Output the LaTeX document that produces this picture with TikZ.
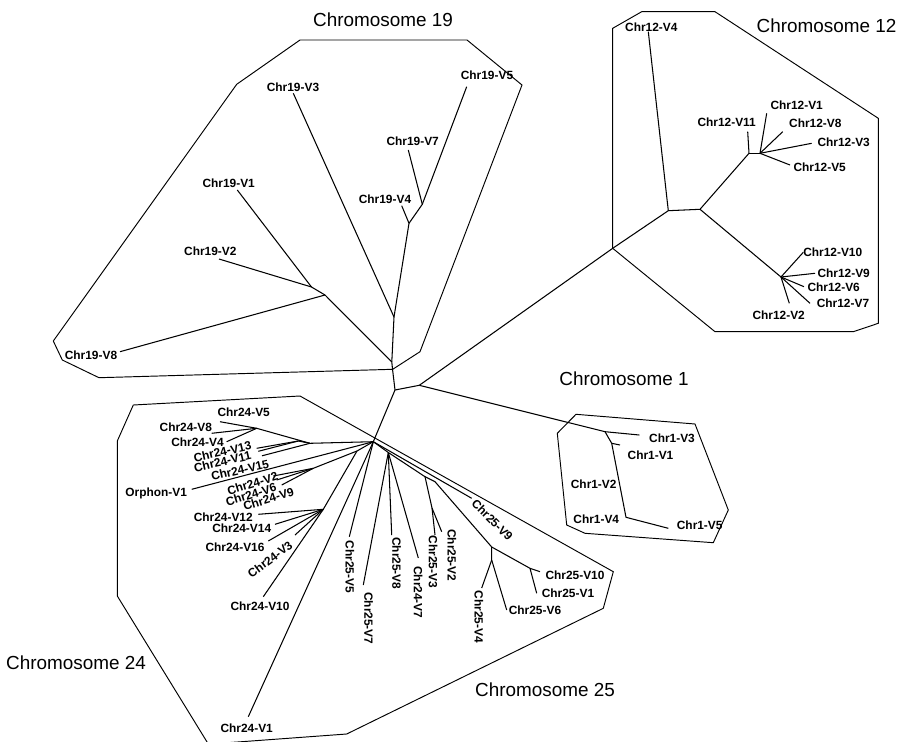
\documentclass[tikz,border=0pt]{standalone}
\usepackage{fontspec}
\setmainfont{Liberation Sans}
\begin{document}
\begin{tikzpicture}[x=1pt,y=-1pt,
  edge/.style={line width=1.05pt,black,line join=round},
  hull/.style={line width=0.95pt,black,line join=miter},
  lab/.style={font=\fontsize{11.9}{14}\selectfont\bfseries,inner sep=0pt,text depth=0pt},
  ttl/.style={font=\fontsize{18.9}{22}\selectfont,inner sep=0pt,text depth=0pt}]
\useasboundingbox (0,0) rectangle (898,742);
\clip (0,0) rectangle (898,742);
% ---------- hulls ----------
\draw[hull] (53.3,341) -- (236.7,84.3) -- (300,40) -- (467,40) -- (522,85) -- (420,351.7) -- (392.7,369.3) -- (99,377.7) -- (62.3,360) -- cycle;
\draw[hull] (612.7,28.3) -- (641.7,11.7) -- (715,11.7) -- (878.3,118.3) -- (878.3,323.3) -- (853.3,331.7) -- (715,331.7) -- (612.7,248.3) -- cycle;
\draw[hull] (576,414.3) -- (695,424) -- (728.3,510) -- (713.3,542.7) -- (585,533.3) -- (566.7,525) -- (557.3,433.3) -- cycle;
\draw[hull] (133.3,405) -- (300,396) -- (613.3,571.7) -- (603.3,608.3) -- (346.7,734) -- (241.7,741.7) -- (208.3,744) -- (117.3,596) -- (117.3,441) -- cycle;
% ---------- inner nodes ----------
\coordinate (A) at (395,390);
\coordinate (B) at (392.5,369);
\coordinate (B2) at (391.8,362);
\coordinate (H) at (394,317);
\coordinate (C) at (419.3,385.3);
\coordinate (E) at (373.3,441.7);
\coordinate (I) at (409,223.3);
\coordinate (J) at (422.3,204.3);
\coordinate (F) at (325,295);
\coordinate (K) at (311.5,287);
\coordinate (R12) at (612.7,248.3);
\coordinate (N12a) at (668.3,210.7);
\coordinate (N12b) at (700,209.3);
\coordinate (N12c) at (749,153.3);
\coordinate (N12d) at (760,153.3);
\coordinate (N12e) at (781,277);
\coordinate (N1a) at (605,431.7);
\coordinate (N1b) at (611.7,443.3);
\coordinate (N1c) at (626,517.3);
\coordinate (N24a) at (310,443.3);
\coordinate (N24b) at (256.7,428.3);
\coordinate (N24c) at (298.3,441);
\coordinate (N24h) at (357,451);
\coordinate (N24e) at (313.3,468.3);
\coordinate (N24g) at (323.3,509.3);
\coordinate (N25a) at (388.3,452.5);
\coordinate (N25b) at (425,476.7);
\coordinate (N25b2) at (432,508);
\coordinate (N25c) at (435,481.7);
\coordinate (N25d) at (491.7,547);
\coordinate (N25e) at (491.7,560);
\coordinate (N25f) at (530,568.3);
% ---------- leaf ends ----------
\coordinate (l19v3) at (293.3,93.3);
\coordinate (l19v4) at (401.7,205.7);
\coordinate (l19v7) at (408.3,150);
\coordinate (l19v5) at (466.7,86.7);
\coordinate (l19v1) at (237.3,190);
\coordinate (l19v2) at (219,259);
\coordinate (l19v8) at (120,351.7);
\coordinate (l12v4) at (648.3,31.7);
\coordinate (l12v11) at (747.7,131.7);
\coordinate (l12v1) at (766.7,113.3);
\coordinate (l12v8) at (782.7,131.7);
\coordinate (l12v3) at (811.7,143.3);
\coordinate (l12v5) at (790,165);
\coordinate (l12v10) at (803.3,252.3);
\coordinate (l12v9) at (815,273.3);
\coordinate (l12v6) at (804,286.7);
\coordinate (l12v7) at (810,303.3);
\coordinate (l12v2) at (789.3,303.3);
\coordinate (l1v3) at (639.3,435);
\coordinate (l1v1) at (620,445);
\coordinate (l1v5) at (668.3,528.3);
\coordinate (l24v5) at (220,421.7);
\coordinate (l24v8) at (211.7,433.3);
\coordinate (l24v4) at (226.7,441.7);
\coordinate (l24v13) at (256.7,448.3);
\coordinate (l24v11) at (258.3,451.3);
\coordinate (l24v15) at (262,455.8);
\coordinate (lorph) at (191.7,489.3);
\coordinate (l24v2) at (273.3,476);
\coordinate (l24v6) at (276.7,480);
\coordinate (l24v9) at (281.7,485);
\coordinate (l24v12) at (258.3,514.3);
\coordinate (l24v14) at (275,524.3);
\coordinate (l24v16) at (268.3,541);
\coordinate (l24v3) at (295,535);
\coordinate (l24v10) at (263.3,596.7);
\coordinate (l24v1) at (248.3,716.7);
\coordinate (l25v5) at (349.3,536.7);
\coordinate (l25v7) at (363.3,585);
\coordinate (l25v8) at (391.7,535);
\coordinate (l24v7) at (418.3,558);
\coordinate (l25v3) at (435,535);
\coordinate (l25v2) at (441.7,531.7);
\coordinate (l25v9) at (471.7,498.3);
\coordinate (l25v10) at (540,571.7);
\coordinate (l25v1) at (536.7,593.3);
\coordinate (l25v4) at (481.7,588);
\coordinate (l25v6) at (506.7,610);
% ---------- tree edges ----------
\draw[edge] (C) -- (A) -- (B) -- (B2) -- (H);
\draw[edge] (A) -- (E);
\draw[edge] (H) -- (l19v3);
\draw[edge] (H) -- (I) -- (l19v4);
\draw[edge] (I) -- (J) -- (l19v7);
\draw[edge] (J) -- (l19v5);
\draw[edge] (B2) -- (F) -- (l19v8);
\draw[edge] (F) -- (K) -- (l19v1);
\draw[edge] (K) -- (l19v2);
% chr12
\draw[edge] (C) -- (R12) -- (N12a) -- (l12v4);
\draw[edge] (N12a) -- (N12b) -- (N12c) -- (l12v11);
\draw[edge] (N12c) -- (N12d);
\draw[edge] (N12d) -- (l12v1);
\draw[edge] (N12d) -- (l12v8);
\draw[edge] (N12d) -- (l12v3);
\draw[edge] (N12d) -- (l12v5);
\draw[edge] (N12b) -- (N12e);
\draw[edge] (N12e) -- (l12v10);
\draw[edge] (N12e) -- (l12v9);
\draw[edge] (N12e) -- (l12v6);
\draw[edge] (N12e) -- (l12v7);
\draw[edge] (N12e) -- (l12v2);
% chr1
\draw[edge] (C) -- (N1a) -- (l1v3);
\draw[edge] (N1a) -- (N1b) -- (l1v1);
\draw[edge] (N1b) -- (N1c) -- (l1v5);
% chr24
\draw[edge] (E) -- (N24a) -- (N24b) -- (l24v5);
\draw[edge] (N24b) -- (l24v8);
\draw[edge] (N24b) -- (l24v4);
\draw[edge] (N24a) -- (N24c) -- (l24v13);
\draw[edge] (N24c) -- (l24v11);
\draw[edge] (N24a) -- (l24v15);
\draw[edge] (E) -- (lorph);
\draw[edge] (E) -- (N24h) -- (N24e) -- (l24v2);
\draw[edge] (N24e) -- (l24v6);
\draw[edge] (N24e) -- (l24v9);
\draw[edge] (N24h) -- (N24g) -- (l24v12);
\draw[edge] (N24g) -- (l24v14);
\draw[edge] (N24g) -- (l24v16);
\draw[edge] (N24g) -- (l24v3);
\draw[edge] (N24g) -- (l24v10);
\draw[edge] (E) -- (l24v1);
% chr25
\draw[edge] (E) -- (l25v5);
\draw[edge] (E) -- (l25v9);
\draw[edge] (E) -- (N25a) -- (l25v7);
\draw[edge] (N25a) -- (l25v8);
\draw[edge] (N25a) -- (l24v7);
\draw[edge] (N25a) -- (N25b) -- (N25b2) -- (l25v3);
\draw[edge] (N25b2) -- (l25v2);
\draw[edge] (N25b) -- (N25c) -- (N25d) -- (N25f) -- (l25v10);
\draw[edge] (N25f) -- (l25v1);
\draw[edge] (N25d) -- (N25e) -- (l25v4);
\draw[edge] (N25e) -- (l25v6);
% ---------- labels ----------
\node[lab] (t19v3) at (293,86.7) {Chr19-V3};
\node[lab] (t19v4) at (385,199.5) {Chr19-V4};
\node[lab] (t19v7) at (412.7,141.5) {Chr19-V7};
\node[lab] (t19v5) at (487,75) {Chr19-V5};
\node[lab] (t19v1) at (228.7,183) {Chr19-V1};
\node[lab] (t19v2) at (210.3,251.5) {Chr19-V2};
\node[lab] (t19v8) at (91,355) {Chr19-V8};
\node[lab] (t12v4) at (651.3,27) {Chr12-V4};
\node[lab] (t12v11) at (726.7,122.5) {Chr12-V11};
\node[lab] (t12v1) at (796.7,105) {Chr12-V1};
\node[lab] (t12v8) at (815.3,123.3) {Chr12-V8};
\node[lab] (t12v3) at (843.7,141.7) {Chr12-V3};
\node[lab] (t12v5) at (819.7,166.7) {Chr12-V5};
\node[lab] (t12v10) at (832.8,251.7) {Chr12-V10};
\node[lab] (t12v9) at (843.7,273.3) {Chr12-V9};
\node[lab] (t12v6) at (833.7,287.3) {Chr12-V6};
\node[lab] (t12v7) at (843,303.3) {Chr12-V7};
\node[lab] (t12v2) at (778.7,315) {Chr12-V2};
\node[lab] (t1v3) at (672,437.8) {Chr1-V3};
\node[lab] (t1v1) at (650.5,455.3) {Chr1-V1};
\node[lab] (t1v2) at (593.7,483.7) {Chr1-V2};
\node[lab] (t1v4) at (596.3,519.5) {Chr1-V4};
\node[lab] (t1v5) at (699.7,525) {Chr1-V5};
\node[lab] (t24v5) at (243.7,412.5) {Chr24-V5};
\node[lab] (t24v8) at (185.8,426.7) {Chr24-V8};
\node[lab] (t24v4) at (197.5,441.7) {Chr24-V4};
\node[lab,rotate=13] (t24v13) at (222.5,451.7) {Chr24-V13};
\node[lab,rotate=13] (t24v11) at (222.5,461.7) {Chr24-V11};
\node[lab,rotate=13] (t24v15) at (240,470) {Chr24-V15};
\node[lab] (torph) at (156.2,492.3) {Orphon-V1};
\node[lab,rotate=17] (t24v2) at (252.5,483.3) {Chr24-V2};
\node[lab,rotate=17] (t24v6) at (251,494.5) {Chr24-V6};
\node[lab,rotate=17] (t24v9) at (268.5,499) {Chr24-V9};
\node[lab] (t24v12) at (223.3,516.7) {Chr24-V12};
\node[lab] (t24v14) at (241.7,528.3) {Chr24-V14};
\node[lab] (t24v16) at (235,546.7) {Chr24-V16};
\node[lab,rotate=37] (t24v3) at (270,559.3) {Chr24-V3};
\node[lab] (t24v10) at (260,606.3) {Chr24-V10};
\node[lab] (t24v1) at (246.7,728.3) {Chr24-V1};
\node[lab,rotate=-90] (t25v5) at (350,566.7) {Chr25-V5};
\node[lab,rotate=-90] (t25v7) at (368.7,618.3) {Chr25-V7};
\node[lab,rotate=-90] (t25v8) at (396.7,563.3) {Chr25-V8};
\node[lab,rotate=-90] (t24v7) at (418.3,592.3) {Chr24-V7};
\node[lab,rotate=-90] (t25v3) at (433.3,561.7) {Chr25-V3};
\node[lab,rotate=-90] (t25v2) at (452,555.3) {Chr25-V2};
\node[lab,rotate=-90] (t25v4) at (479,616.7) {Chr25-V4};
\node[lab,rotate=-45] (t25v9) at (492.3,520) {Chr25-V9};
\node[lab] (t25v10) at (575,575.3) {Chr25-V10};
\node[lab] (t25v1) at (568,593.3) {Chr25-V1};
\node[lab] (t25v6) at (535,610.5) {Chr25-V6};
% ---------- titles ----------
\node[ttl] (c19) at (383,20) {Chromosome 19};
\node[ttl] (c12) at (826.5,26) {Chromosome 12};
\node[ttl] (c1) at (624,379) {Chromosome 1};
\node[ttl] (c24) at (76,663) {Chromosome 24};
\node[ttl] (c25) at (545,690) {Chromosome 25};
\end{tikzpicture}
\end{document}
